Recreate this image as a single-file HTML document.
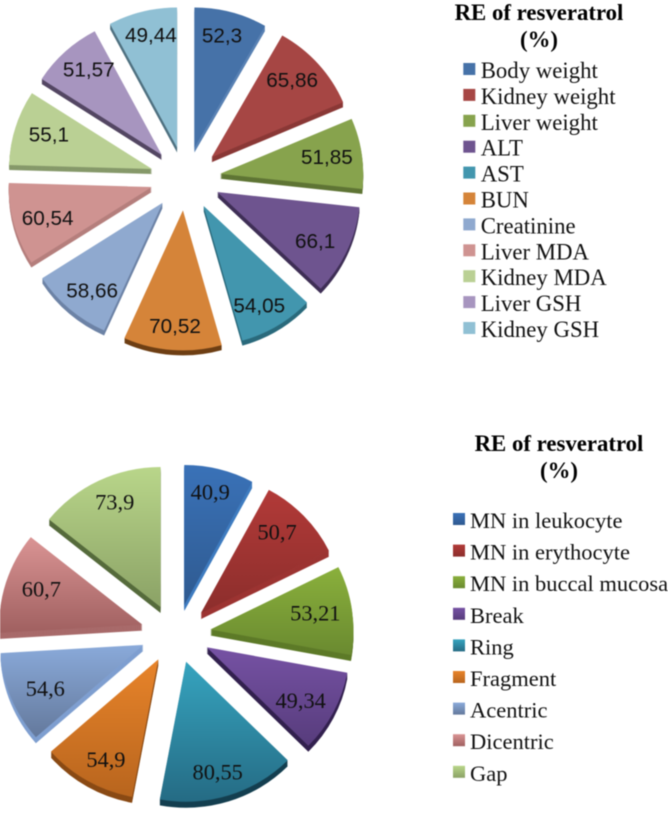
<!DOCTYPE html>
<html lang="en">
<head>
<meta charset="utf-8">
<title>RE of resveratrol pie charts</title>
<style>
html,body{margin:0;padding:0;background:#fff;width:668px;height:813px;overflow:hidden}
svg{display:block;filter:blur(0.45px)}
.val{font-family:"Liberation Sans",sans-serif;font-size:20.7px;fill:#111;text-anchor:middle}
.val2{font-family:"Liberation Serif",serif;font-size:22.4px;fill:#111;text-anchor:middle}
.ttl{font-family:"Liberation Serif",serif;font-weight:bold;font-size:22.8px;fill:#000;text-anchor:middle}
.leg{font-family:"Liberation Serif",serif;font-size:22.8px;fill:#111}
.leg2{font-family:"Liberation Serif",serif;font-size:22.5px;fill:#111}
</style>
</head>
<body>
<svg id="chart" xmlns="http://www.w3.org/2000/svg" width="668" height="813" viewBox="0 0 668 813">
  <defs id="grads"></defs>
  <g id="pie-a"></g>
  <g id="legend-a">
    <text class="ttl" x="539" y="20">RE of resveratrol</text>
    <text class="ttl" x="539" y="47">(%)</text>
  </g>
  <g id="pie-b"></g>
  <g id="legend-b">
    <text class="ttl" x="559" y="451">RE of resveratrol</text>
    <text class="ttl" x="559" y="478">(%)</text>
  </g>
</svg>
<script>
const categoriesA = ["Body weight","Kidney weight","Liver weight","ALT","AST","BUN","Creatinine","Liver MDA","Kidney MDA","Liver GSH","Kidney GSH"];
const valuesA = [52.3,65.86,51.85,66.1,54.05,70.52,58.66,60.54,55.1,51.57,49.44];
const categoriesB = ["MN in leukocyte","MN in erythocyte","MN in buccal mucosa","Break","Ring","Fragment","Acentric","Dicentric","Gap"];
const valuesB = [40.9,50.7,53.21,49.34,80.55,54.9,54.6,60.7,73.9];

const coloursA = ["#4672a8","#a64644","#87a34d","#6e548f","#4296ae","#d58439","#8fa9cf","#cf9391","#bad094","#a795bf","#90c0d4"];
const sidesA = ["#5a82b4","#8a3836","#5f7535","#3f2f56","#2a6a7c","#6e3f14","#6d83a6","#b57f7d","#86996a","#544763","#4f7180"];
const topsB = ["#3a72b8","#b23a38","#8ab03c","#7652a4","#36a4bf","#e8842a","#8aaada","#da9494","#b9d68a"];
const bottomsB = ["#2f5a90","#8c2e2c","#6a8a30","#573c7c","#256b84","#b8651e","#64799c","#a06060","#8ba266"];
const sidesB = ["#3f7cc0","#9c3432","#5d7a28","#33214f","#143f50","#8a4a14","#7f9fd0","#a86a6a","#566b3c"];

const NS = "http://www.w3.org/2000/svg";
const defs = document.getElementById("grads");

function makeGradient(id, c1, c2) {
  const g = document.createElementNS(NS, "linearGradient");
  g.setAttribute("id", id);
  g.setAttribute("x1", "0"); g.setAttribute("y1", "0");
  g.setAttribute("x2", "0"); g.setAttribute("y2", "1");
  [[0, c1], [1, c2]].forEach(function (s) {
    const st = document.createElementNS(NS, "stop");
    st.setAttribute("offset", s[0]);
    st.setAttribute("stop-color", s[1]);
    g.appendChild(st);
  });
  defs.appendChild(g);
  return "url(#" + id + ")";
}

function wedgePath(o, a0, a1) {
  const tx = o.cx + o.dx * Math.sin((a0 + a1) / 2);
  const ty = o.cy - o.dy * Math.cos((a0 + a1) / 2);
  const x0 = tx + o.rx * Math.sin(a0), y0 = ty - o.ry * Math.cos(a0);
  const x1 = tx + o.rx * Math.sin(a1), y1 = ty - o.ry * Math.cos(a1);
  const large = (a1 - a0) > Math.PI ? 1 : 0;
  return "M" + tx + " " + ty + "L" + x0 + " " + y0 +
         "A" + o.rx + " " + o.ry + " 0 " + large + " 1 " + x1 + " " + y1 + "Z";
}

function drawPie(root, cats, vals, fills, sides, o) {
  const total = vals.reduce(function (a, b) { return a + b; }, 0);
  let cum = 0;
  vals.forEach(function (v, i) {
    const a0 = cum / total * 2 * Math.PI;
    cum += v;
    const a1 = cum / total * 2 * Math.PI;
    const mid = (a0 + a1) / 2;
    const d = wedgePath(o, a0, a1);
    const slug = cats[i].toLowerCase().replace(/\s+/g, "-");
    const g = document.createElementNS(NS, "g");
    
    
    for (let k = o.depth; k >= 1; k--) {
      const s = document.createElementNS(NS, "path");
      s.setAttribute("d", d);
      s.setAttribute("fill", sides[i]);
      s.setAttribute("transform", "translate(0," + k + ")");
      
      
      g.appendChild(s);
    }
    const p = document.createElementNS(NS, "path");
    p.setAttribute("d", d);
    p.setAttribute("fill", fills[i]);
    
    
    g.appendChild(p);
    const tx = o.cx + o.dx * Math.sin(mid) + o.lx * Math.sin(mid);
    const ty = o.cy - o.dy * Math.cos(mid) - o.ly * Math.cos(mid);
    const t = document.createElementNS(NS, "text");
    t.setAttribute("x", tx);
    t.setAttribute("y", ty + 7);
    t.setAttribute("class", o.labelClass);
    t.textContent = String(v).replace(".", ",");
    
    
    g.appendChild(t);
    root.appendChild(g);
  });
}

function drawLegend(root, cats, fills, o) {
  cats.forEach(function (c, i) {
    const g = document.createElementNS(NS, "g");
    
    
    const r = document.createElementNS(NS, "rect");
    r.setAttribute("x", o.sx);
    r.setAttribute("y", o.sy + i * o.step);
    r.setAttribute("width", 12);
    r.setAttribute("height", 12);
    r.setAttribute("fill", fills[i]);
    
    
    g.appendChild(r);
    const t = document.createElementNS(NS, "text");
    t.setAttribute("x", o.tx);
    t.setAttribute("y", o.ty + i * o.step);
    t.setAttribute("class", o.textClass);
    t.textContent = c;
    
    
    g.appendChild(t);
    root.appendChild(g);
  });
}

const fillsB = topsB.map(function (c, i) { return makeGradient("gb" + i, c, bottomsB[i]); });

drawPie(document.getElementById("pie-a"), categoriesA, valuesA, coloursA, sidesA,
  {cx:185.5, cy:178.5, dx:35, dy:32, rx:143, ry:140, depth:5, lx:108, ly:116, labelClass:"val"});
drawPie(document.getElementById("pie-b"), categoriesB, valuesB, fillsB, sidesB,
  {cx:175.7, cy:633.6, dx:35, dy:29.5, rx:143, ry:140, depth:6, lx:106, ly:116, labelClass:"val2"});
drawLegend(document.getElementById("legend-a"), categoriesA, coloursA,
  {sx:463.3, sy:63, step:25.9, tx:480.7, ty:78, textClass:"leg"});
drawLegend(document.getElementById("legend-b"), categoriesB, fillsB,
  {sx:453, sy:513, step:31.6, tx:470, ty:528, textClass:"leg2"});
</script>
</body>
</html>
